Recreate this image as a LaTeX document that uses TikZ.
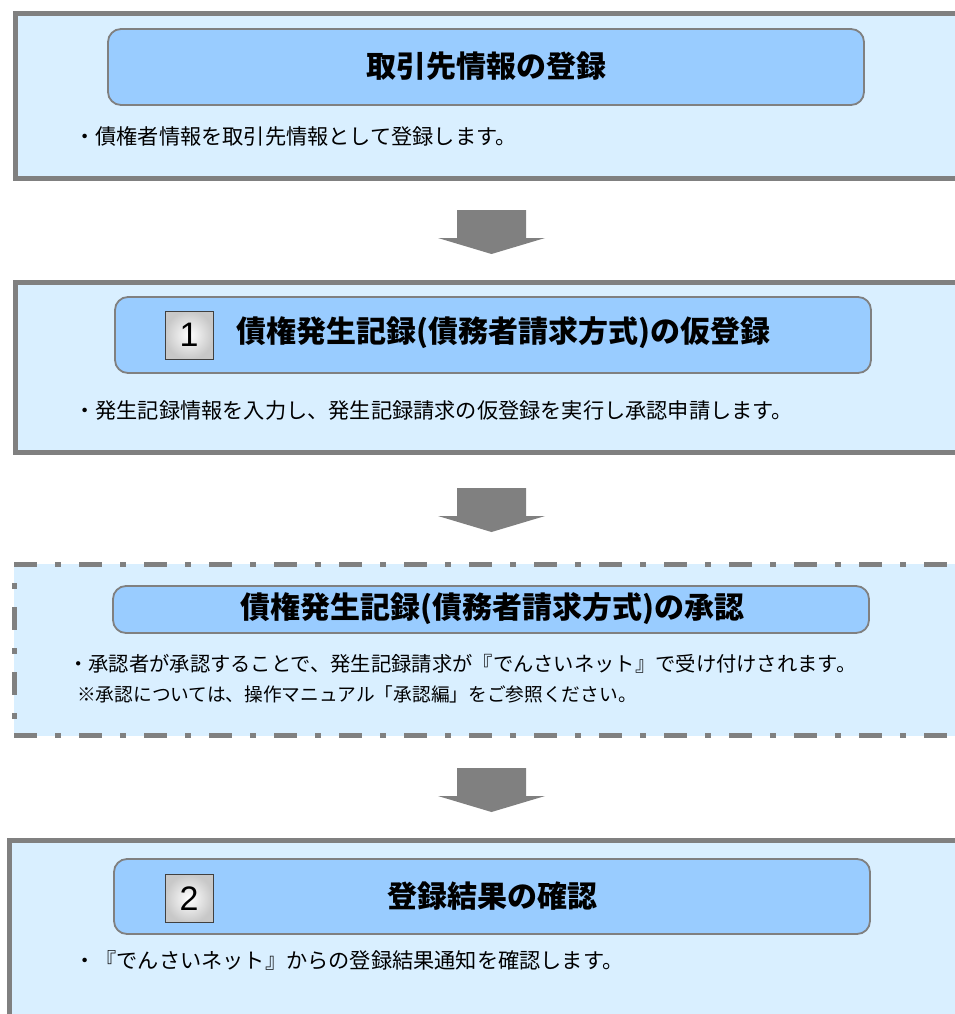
\documentclass[tikz,border=0pt]{standalone}
\usepackage{fontspec}
\newfontfamily\jp{Noto Sans CJK JP}
\newfontfamily\numfont{Liberation Sans}
\definecolor{outerfill}{RGB}{217,239,255}
\definecolor{innerfill}{RGB}{153,204,255}
\definecolor{bordergray}{RGB}{128,128,128}
\definecolor{boxgray}{RGB}{128,128,128}
\definecolor{numedge}{RGB}{64,64,64}
\definecolor{numgray}{RGB}{200,200,200}
\begin{document}
\begin{tikzpicture}[x=1pt,y=-1pt,
  titlebox/.style={draw=boxgray, line width=1.8pt, fill=innerfill, rounded corners=13pt,
    minimum width=756pt, inner sep=0pt},
  numbox/.style={draw=numedge, line width=1pt, inner color=white, outer color=numgray,
    minimum width=48pt, minimum height=48pt, inner sep=0pt,
    font=\numfont\fontsize{34}{34}\selectfont},
  titletext/.style={font=\jp\bfseries\fontsize{30}{32}\selectfont, inner sep=0pt},
  bodytext/.style={font=\jp\fontsize{21.2}{24}\selectfont, anchor=west, inner sep=0pt},
  bodytextsmall/.style={font=\jp\fontsize{20.3}{24}\selectfont, anchor=west, inner sep=0pt},
  notetext/.style={font=\jp\fontsize{18.7}{20}\selectfont, anchor=west, inner sep=0pt},
  outerline/.style={draw=bordergray, line width=5pt, line join=miter},
  dashline/.style={draw=bordergray, line width=5pt},
  blockarrow/.style={fill=bordergray}
]
\useasboundingbox (0,0) rectangle (955,1014);
\clip (0,0) rectangle (955,1014);
\fill[white] (0,0) rectangle (955,1014);

% ---- Box 1
\fill[outerfill] (15.5,13.5) rectangle (965,178);
\draw[outerline] (965,13.5) -- (15.5,13.5) -- (15.5,178) -- (965,178);
\node[titlebox, minimum height=76pt] (t1) at (486,67) {};
\node[titletext] (t1txt) at (486,66) {取引先情報の登録};
\node[bodytext] (b1) at (74,136) {・債権者情報を取引先情報として登録します。};

% ---- Box 2
\fill[outerfill] (15.5,282.5) rectangle (965,452.5);
\draw[outerline] (965,282.5) -- (15.5,282.5) -- (15.5,452.5) -- (965,452.5);
\node[titlebox, minimum height=76pt] (t2) at (493,335) {};
\node[numbox] (n1) at (189,335) {1};
\node[titletext] (t2txt) at (503,333) {債権発生記録(債務者請求方式)の仮登録};
\node[bodytext] (b2) at (74,410) {・発生記録情報を入力し、発生記録請求の仮登録を実行し承認申請します。};

% ---- Box 3 (dash-dot border)
\fill[outerfill] (14,564) rectangle (965,735.5);
\draw[dashline, dash pattern=on 23pt off 18pt on 6pt off 18pt] (14,564) -- (965,564);
\draw[dashline, dash pattern=on 23pt off 18pt on 6pt off 18pt] (14,735.5) -- (965,735.5);
\draw[dashline, dash pattern=on 6pt off 18pt on 23pt off 18pt] (14,583) -- (14,733);
\node[titlebox, minimum height=47pt] (t3) at (491,609.5) {};
\node[titletext] (t3txt) at (492,609) {債権発生記録(債務者請求方式)の承認};
\node[bodytextsmall] (b3) at (68,664) {・承認者が承認することで、発生記録請求が『でんさいネット』で受け付けされます。};
\node[notetext] (b3note) at (77,694) {※承認については、操作マニュアル「承認編」をご参照ください。};

% ---- Box 4
\fill[outerfill] (9.5,840.5) rectangle (965,1030);
\draw[outerline] (965,840.5) -- (9.5,840.5) -- (9.5,1030);
\node[titlebox, minimum height=75pt] (t4) at (492,896.5) {};
\node[numbox] (n2) at (189,898.5) {2};
\node[titletext] (t4txt) at (492,896) {登録結果の確認};
\node[bodytext] (b4) at (74,960) {・『でんさいネット』からの登録結果通知を確認します。};

% ---- Block arrows
\foreach \ya in {210,488,768}{
  \fill[blockarrow] (457,\ya) -- (526,\ya) -- (526,\ya+28) -- (545,\ya+28)
    -- (491.5,\ya+44) -- (438,\ya+28) -- (457,\ya+28) -- cycle;
}
\end{tikzpicture}
\end{document}
